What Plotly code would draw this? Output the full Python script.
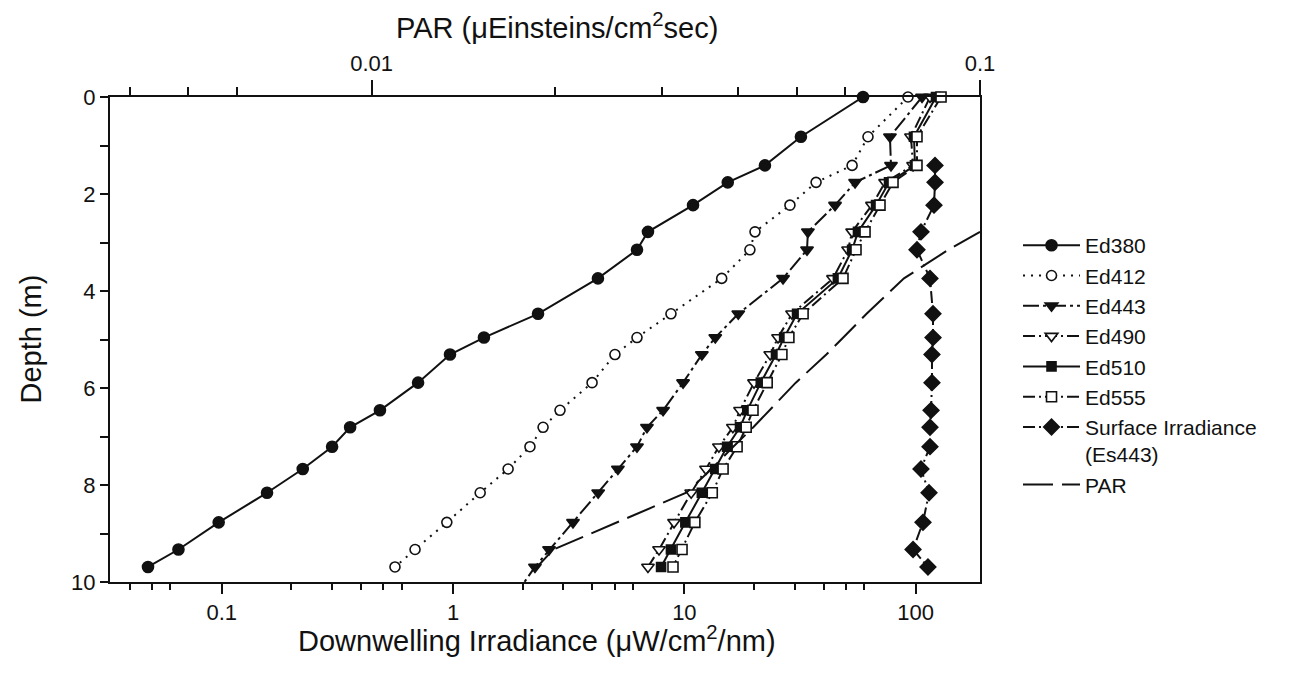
import plotly.graph_objects as go

# ---------------- data ----------------
depth_m = [0, 0.82, 1.41, 1.76, 2.23, 2.78, 3.15, 3.74, 4.47, 4.96,
           5.31, 5.89, 6.46, 6.81, 7.21, 7.67, 8.16, 8.77, 9.33, 9.69]

ed380 = [59.2, 31.9, 22.3, 15.4, 10.9, 6.96, 6.24, 4.23, 2.33, 1.36,
         0.97, 0.706, 0.483, 0.359, 0.300, 0.224, 0.157, 0.097, 0.065, 0.048]
ed412 = [92.6, 62.2, 53.1, 37.1, 28.6, 20.2, 19.2, 14.5, 8.75, 6.24,
         5.01, 3.99, 2.90, 2.45, 2.15, 1.73, 1.31, 0.94, 0.685, 0.561]
ed443_depth = [0, 0.82, 1.41, 1.76, 2.23, 2.78, 3.15, 3.74, 4.47, 4.96,
               5.31, 5.89, 6.46, 6.81, 7.21, 7.67, 8.16, 8.77, 9.33, 9.69, 10.3]
ed443 = [106.5, 77.4, 78.2, 54.7, 44.8, 34.2, 33.9, 26.7, 17.1, 13.6,
         11.9, 9.87, 8.09, 6.89, 6.24, 5.16, 4.24, 3.30, 2.60, 2.26, 1.84]
ed490 = [115.3, 95.4, 97.4, 73.7, 64.7, 53.1, 51.0, 43.9, 29.2, 25.4,
         23.5, 20.0, 17.4, 16.2, 14.1, 12.4, 10.7, 9.02, 7.77, 6.96]
ed510 = [122.4, 98.3, 99.3, 76.7, 67.4, 56.3, 53.1, 46.1, 30.7, 27.0,
         24.9, 21.4, 18.7, 17.4, 15.3, 13.6, 11.9, 10.1, 8.75, 7.93]
ed555 = [128.7, 101.3, 101.3, 79.8, 70.1, 60.4, 55.2, 48.5, 32.6, 28.3,
         26.4, 22.8, 19.8, 18.5, 16.9, 14.7, 13.2, 11.1, 9.77, 8.93]

surface_depth = [1.41, 1.76, 2.23, 2.78, 3.15, 3.74, 4.47, 4.96, 5.31,
                 5.89, 6.46, 6.81, 7.21, 7.67, 8.16, 8.77, 9.33, 9.69]
es443 = [121.2, 121.2, 120.0, 105.4, 101.3, 115.3, 118.8, 118.8, 117.6,
         117.6, 116.5, 115.3, 115.3, 105.4, 114.2, 107.5, 97.4, 113.0]

par_depth = [2.78, 3.15, 3.74, 4.47, 4.96, 5.31, 5.89, 6.46, 6.81,
             7.21, 7.67, 8.16, 8.77, 9.33, 9.69]
par = [0.1, 0.0887, 0.075, 0.0651, 0.0596, 0.0559, 0.0498, 0.045, 0.0424,
       0.0393, 0.0362, 0.0329, 0.0254, 0.0199, 0.0187]

bottom_ticks = [0.1, 1, 10, 100]
bottom_ticktext = ["0.1", "1", "10", "100"]
bottom_minor = [0.04, 0.05, 0.06, 0.2, 0.3, 0.4, 0.5, 0.6,
                2, 3, 4, 5, 6, 20, 30, 40, 50, 60]
top_ticks = [0.01, 0.1]
top_ticktext = ["0.01", "0.1"]
top_minor = [0.004, 0.005, 0.006, 0.02, 0.03, 0.04, 0.05, 0.06]
depth_ticks = [0, 2, 4, 6, 8, 10]
depth_ticktext = ["0", "2", "4", "6", "8", "10"]
depth_minor = [1, 3, 5, 7, 9]

# ---------------- figure ----------------
FONT = "Liberation Sans, Arial, Helvetica, sans-serif"
BLACK = "#111111"
DASHDOT = "12px,4px,2px,4px"

fig = go.Figure()

def add(name, x, y, symbol, size, fill, dash, xaxis="x", mode="lines+markers"):
    fig.add_trace(go.Scatter(
        x=x, y=y, name=name, mode=mode, xaxis=xaxis, yaxis="y",
        cliponaxis=False,
        line=dict(color=BLACK, width=2, dash=dash),
        marker=dict(symbol=symbol, size=size, color=fill,
                    line=dict(color=BLACK, width=1.6)),
    ))

add("Ed380", ed380, depth_m, "circle", 11, BLACK, "solid")
add("Ed412", ed412, depth_m, "circle", 10, "white", "2px,6px")
add("Ed443", ed443, ed443_depth, "triangle-down", 11, BLACK, "16px,4px,3px,4px")
add("Ed490", ed490, depth_m, "triangle-down", 11, "white", DASHDOT)
add("Ed510", ed510, depth_m, "square", 9, BLACK, "solid")
add("Ed555", ed555, depth_m, "square", 10, "white", DASHDOT)
add("Surface Irradiance<br>(Es443)", es443, surface_depth, "diamond", 12, BLACK, DASHDOT)
fig.add_trace(go.Scatter(
    x=par, y=par_depth, name="PAR", mode="lines", xaxis="x2", yaxis="y",
    line=dict(color=BLACK, width=2, dash="30px,9px"),
))

axis_common = dict(
    type="log", showgrid=False, zeroline=False, showline=True,
    linecolor=BLACK, linewidth=2, ticks="outside", tickcolor=BLACK,
    tickwidth=1.5, tickfont=dict(family=FONT, size=22, color=BLACK),
)

fig.update_layout(
    width=1295, height=680,
    paper_bgcolor="white", plot_bgcolor="white",
    margin=dict(l=110, r=315, t=97, b=98, autoexpand=False),
    font=dict(family=FONT, color=BLACK),
    xaxis=dict(
        **axis_common, range=[-1.483, 2.278], anchor="y", side="bottom",
        tickmode="array", tickvals=bottom_ticks, ticktext=bottom_ticktext,
        ticklen=10,
        minor=dict(tickmode="array", tickvals=bottom_minor, ticks="outside",
                   ticklen=6, tickwidth=1.5, tickcolor=BLACK, showgrid=False),
    ),
    xaxis2=dict(
        **axis_common, range=[-2.43, -1.0], anchor="y", side="top",
        overlaying="x",
        tickmode="array", tickvals=top_ticks, ticktext=top_ticktext,
        ticklen=15,
        minor=dict(tickmode="array", tickvals=top_minor, ticks="outside",
                   ticklen=8, tickwidth=1.5, tickcolor=BLACK, showgrid=False),
    ),
    yaxis=dict(
        range=[10, 0], showgrid=False, zeroline=False, showline=True,
        mirror=True, linecolor=BLACK, linewidth=2,
        ticks="outside", ticklen=8, tickwidth=1.5, tickcolor=BLACK,
        tickmode="array", tickvals=depth_ticks, ticktext=depth_ticktext,
        tickfont=dict(family=FONT, size=22, color=BLACK),
        ticklabelstandoff=0,
        minor=dict(tickmode="array", tickvals=depth_minor, ticks="outside",
                   ticklen=8, tickwidth=1.5, tickcolor=BLACK, showgrid=False),
    ),
    legend=dict(
        x=1.0437, xanchor="left", y=0.736, yanchor="top",
        font=dict(family=FONT, size=21, color=BLACK),
        itemwidth=57, valign="top", bgcolor="rgba(0,0,0,0)",
        tracegroupgap=0,
    ),
    showlegend=True,
    annotations=[
        dict(text="Downwelling Irradiance (μW/cm<sup>2</sup>/nm)",
             xref="paper", yref="paper", x=(537 - 110) / 870, y=(582 - 639) / 485,
             xanchor="center", yanchor="middle", showarrow=False,
             font=dict(family=FONT, size=29, color=BLACK)),
        dict(text="PAR (μEinsteins/cm<sup>2</sup>sec)",
             xref="paper", yref="paper", x=(557 - 110) / 870, y=(582 - 26) / 485,
             xanchor="center", yanchor="middle", showarrow=False,
             font=dict(family=FONT, size=29, color=BLACK)),
        dict(text="Depth (m)", textangle=-90,
             xref="paper", yref="paper", x=(30 - 110) / 870, y=0.5,
             xanchor="center", yanchor="middle", showarrow=False,
             font=dict(family=FONT, size=29, color=BLACK)),
    ],
)

fig.write_html("out.html")
